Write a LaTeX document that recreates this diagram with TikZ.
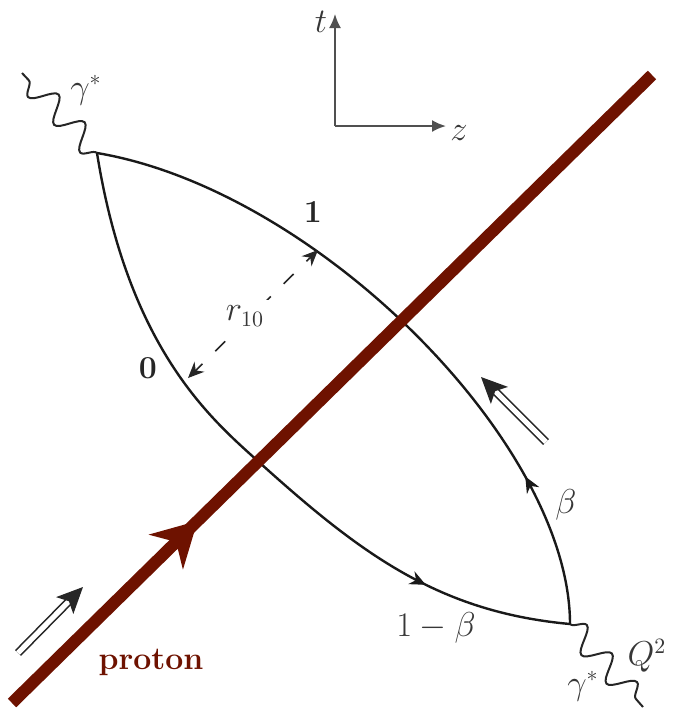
\documentclass[tikz,border=0pt]{standalone}
\usepackage{amsmath}
\usetikzlibrary{arrows.meta,decorations.pathmorphing,decorations.markings}
\definecolor{protonred}{RGB}{110,18,0}
\definecolor{labelgray}{RGB}{55,55,55}
\definecolor{axisgray}{RGB}{80,80,80}
\begin{document}
\begin{tikzpicture}[x=0.5pt,y=-0.5pt,
  font=\fontsize{16}{19}\selectfont,
  quark/.style={line width=1.2pt,black!90},
  photon/.style={line width=1pt,black!85,decorate,decoration={snake,segment length=19pt,amplitude=6pt}},
  lab/.style={text=labelgray,inner sep=1pt},
  boldlab/.style={text=black!85,inner sep=1pt,font=\fontsize{16}{19}\selectfont\bfseries},
  midarrow/.style={postaction={decorate},decoration={markings,mark=at position #1 with {\arrow{Stealth[length=8pt,width=7pt]}}}},
  momentum/.style={line width=0.8pt,black!85,double distance=2.6pt,-{Stealth[length=13pt,width=12pt,inset=3pt]}},
  axis/.style={line width=1pt,axisgray,-{Latex[length=7pt,width=6pt]}}
]
\useasboundingbox (0,0) rectangle (673,709);

% coordinates
\coordinate (top) at (97,153);
\coordinate (bot) at (570,624);
\coordinate (mid) at (260,463);
\coordinate (pstart) at (12,703);
\coordinate (pend) at (652,75);
\coordinate (gtop) at (22,73);
\coordinate (gbot) at (643,707);
\coordinate (r1) at (318,250);
\coordinate (r0) at (188,378);
\coordinate (O) at (335,126);
\coordinate (tt) at (335,14);
\coordinate (zz) at (446,126);
\coordinate (m1a) at (546,442);
\coordinate (m1b) at (481,377);
\coordinate (m2a) at (18,653);
\coordinate (m2b) at (83,587);

% axes
\draw[axis] (O) -- (tt);
\draw[axis] (O) -- (zz);
\node[lab] (tlab) at (321,22) {$t$};
\node[lab] (zlab) at (459,133) {$z$};

% photons
\draw[photon] (top) -- (gtop);
\draw[photon] (bot) -- (gbot);
\node[lab] (g1) at (86,90) {$\gamma^*$};
\node[lab] (g2) at (583,686) {$\gamma^*$};
\node[lab] (q2) at (647,656) {$Q^2$};

% quark lines
\draw[quark,midarrow=0.22] (bot) .. controls (570,444) and (317,190) .. (top);
\draw[quark,midarrow=0.79] (top) .. controls (129,353) and (215,422) .. (mid)
   .. controls (360,553) and (438,612) .. (bot);

% proton
\draw[line width=6pt,protonred,postaction={decorate},decoration={markings,mark=at position 0.29 with {\arrow{Stealth[length=22pt,width=24pt,inset=7pt]}}}] (pstart) -- (pend);
\node[text=protonred,font=\fontsize{16}{19}\selectfont\bfseries] (plab) at (151,662) {proton};

% dipole size
\draw[line width=0.8pt,black!85,dash pattern=on 7pt off 9pt,dash phase=2pt,{Stealth[length=8pt,width=7pt]}-{Stealth[length=8pt,width=7pt]}] (r0) -- (r1);
\node[lab,fill=white,inner sep=3pt] (rlab) at (245,316) {$r_{10}$};
\node[boldlab] (l1) at (313,212) {1};
\node[boldlab] (l0) at (148,368) {0};

% momentum labels
\node[lab] (b1) at (566,505) {$\beta$};
\node[lab] (b2) at (436,628) {$1-\beta$};

% momentum flow arrows
\draw[momentum] (m1a) -- (m1b);
\draw[momentum] (m2a) -- (m2b);
\end{tikzpicture}
\end{document}
